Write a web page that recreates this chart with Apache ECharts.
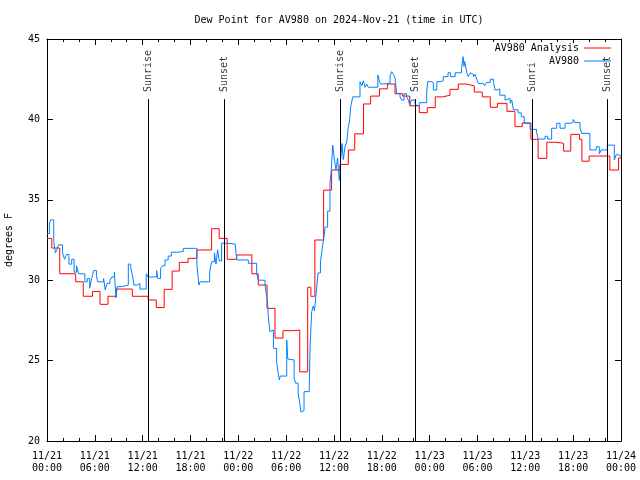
<!DOCTYPE html>
<html><head><meta charset="utf-8">
<script src="https://cdn.jsdelivr.net/npm/echarts@6/dist/echarts.min.js"></script>
<style>html,body{margin:0;padding:0;background:#fff}#c{width:640px;height:480px}</style>
</head><body><div id="c"></div>
<script>
// ---- data (time = hours since 2024-11-21 00:00 UTC) ----
const xTickLabels = ['11/21\n00:00','11/21\n06:00','11/21\n12:00','11/21\n18:00','11/22\n00:00','11/22\n06:00','11/22\n12:00','11/22\n18:00','11/23\n00:00','11/23\n06:00','11/23\n12:00','11/23\n18:00','11/24\n00:00'];
const yTickValues = [20,25,30,35,40,45];
const sunEventNames = ['Sunrise','Sunset','Sunrise','Sunset','Sunrise','Sunset'];
const sunEventHours = [12.67, 22.2, 36.75, 46.16, 60.84, 70.25];

const analysisHours = [0,0.6,1.6,3.6,4.55,5.7,6.65,7.65,8.7,10.7,12.7,13.7,14.7,15.7,16.6,17.7,18.8,20.65,21.6,22.6,23.8,25.7,26.5,27.6,28.6,29.6,30.8,31.7,32.7,33.1,33.6,34.7,35.7,36.75,37.8,38.6,39.7,40.6,41.7,42.7,43.65,44.6,45.5,46.7,47.7,48.7,49.6,50.55,51.6,52.65,53.6,54.6,55.6,56.5,57.7,58.7,59.6,60.7,61.6,62.7,63.7,64.8,65.7,66.8,67.1,68.0,70.6,71.7,72];
const analysisValues = [32.6,32.0,30.4,29.9,29.0,29.3,28.5,29.0,29.45,29.0,28.77,28.3,29.43,30.57,31.11,31.36,31.88,33.2,32.6,31.3,31.57,30.4,29.7,28.25,26.4,26.86,26.9,24.3,29.56,29.0,32.5,35.6,36.85,37.2,38.1,39.1,40.96,41.45,41.9,42.2,41.6,41.45,40.85,40.42,40.73,41.4,41.5,41.87,42.2,42.08,41.7,41.4,40.75,41.0,40.5,39.55,39.78,38.76,37.58,38.58,38.52,38.03,39.07,38.76,37.4,37.72,36.85,37.6,37.6];

const obsHours = [0,0.3,0.45,0.85,1.05,1.25,1.45,1.95,2.2,2.45,2.75,3.1,3.4,3.7,3.95,4.4,4.75,5.05,5.35,5.6,5.85,6.2,6.35,7.1,7.3,7.55,7.9,8.15,8.45,8.65,8.8,9.4,10.2,10.5,10.75,10.9,11.3,11.65,12.45,12.7,13.75,13.9,14.25,14.5,14.8,15.2,15.6,16.3,16.6,17.1,18.5,18.8,18.95,19.05,19.2,20.4,20.65,21.0,21.2,21.4,21.6,21.9,22.6,23.6,23.8,25.25,26.3,26.5,27.35,27.56,27.7,27.76,27.97,28.2,28.4,28.8,29.0,29.15,29.25,30.07,30.2,30.4,31.0,31.2,31.5,31.7,31.86,32.1,32.24,32.9,33.0,33.2,33.4,33.55,33.8,34.0,34.3,34.5,34.7,34.9,35.2,35.5,35.65,35.84,36.05,36.25,36.45,36.67,36.85,37.0,37.17,37.38,37.6,37.8,37.95,38.1,38.35,38.85,39.26,39.5,39.68,39.9,40.1,40.3,40.73,41.5,41.7,41.86,42.2,43.03,43.24,43.45,43.65,43.87,44.28,44.5,44.78,45.1,45.32,45.5,45.7,46.16,46.4,46.7,47.63,47.75,48.2,48.46,48.9,49.3,49.7,50.3,50.6,51.2,52.0,52.2,52.3,52.4,52.65,52.85,53.1,53.3,53.5,53.7,53.9,54.1,54.7,54.9,55.15,55.6,56.0,56.2,56.5,56.8,57.45,57.7,58.1,58.3,58.5,59.1,59.5,59.85,60.6,61.4,61.63,62.47,62.8,63.3,63.94,64.35,64.98,65.7,66.0,66.2,66.86,67.07,68.1,68.9,69.28,69.5,70.28,71.16,71.4,71.7,72];
const obsValues = [32.9,33.5,33.75,32.4,31.7,31.9,32.2,31.7,31.3,31.6,31.0,31.3,30.5,30.9,30.4,30.4,29.9,30.1,29.5,30.1,30.6,30.3,29.9,30.1,29.4,29.8,30.0,30.2,30.5,28.9,29.6,29.7,31.0,30.8,30.2,29.7,29.8,29.45,30.4,30.2,30.6,30.1,30.74,30.9,31.26,31.5,31.74,31.75,31.8,31.98,31.98,31.0,30.2,29.7,29.9,30.5,31.15,31.7,31.0,31.9,31.2,32.3,32.25,32.19,31.26,31.05,30.43,30.0,29.7,28.97,28.35,27.73,26.8,26.9,25.76,24.93,24.2,23.8,24.04,26.28,25.1,25.04,23.9,23.6,22.97,22.35,21.8,21.9,23.07,23.6,25.9,28.04,28.4,28.1,29.4,30.45,31.15,31.88,32.6,33.3,34.3,36.0,36.8,38.4,37.5,36.85,37.6,36.2,37.6,38.5,37.5,38.3,38.6,39.55,39.9,40.8,41.4,41.4,42.35,42.1,42.4,42.0,42.2,42.0,42.0,42.76,42.35,42.2,42.25,42.7,42.97,42.8,42.6,41.6,41.4,41.2,41.6,41.4,41.2,40.9,41.2,41.0,40.85,41.04,41.7,42.35,42.3,41.83,42.35,42.4,42.66,42.9,42.66,42.9,43.2,43.9,43.3,43.6,42.9,42.66,42.9,42.8,42.66,42.8,42.5,42.24,42.3,42.1,42.3,42.5,42.3,41.83,41.9,41.5,41.2,41.3,41.0,41.2,40.6,40.4,40.17,39.76,39.38,39.2,38.78,38.95,38.78,39.45,39.76,39.45,39.76,39.85,40.0,39.8,39.45,39.13,38.1,38.3,37.85,38.1,38.4,37.48,37.8,37.7,37.7];

// ---- chart ----
const FONT = 'DejaVu Sans Mono';
const FS = 10;
const zip = (a, b) => a.map((v, i) => [v, b[i]]);
const chart = echarts.init(document.getElementById('c'), null, {renderer: 'canvas'});

const xBase = {
  type: 'value', min: 0, max: 72, interval: 6,
  axisLine: {show: true, onZero: false, lineStyle: {color: '#000', width: 1}},
  axisTick: {show: true, inside: true, length: 6, lineStyle: {color: '#000'}},
  minorTick: {show: true, splitNumber: 3, length: 3, lineStyle: {color: '#000'}},
  splitLine: {show: false}
};
const yBase = {
  type: 'value', min: 20, max: 45, interval: 5,
  axisLine: {show: true, onZero: false, lineStyle: {color: '#000', width: 1}},
  axisTick: {show: true, inside: true, length: 6, lineStyle: {color: '#000'}},
  splitLine: {show: false}
};
const legendBase = {
  orient: 'vertical', align: 'right', right: 29,
  icon: 'rect', itemWidth: 27, itemHeight: 1, itemGap: 0, padding: 0,
  textStyle: {fontFamily: FONT, fontSize: FS, color: '#000'}
};

chart.setOption({
  animation: false,
  backgroundColor: '#fff',
  title: {
    text: 'Dew Point for AV980 on 2024-Nov-21 (time in UTC)',
    left: 334, top: 10, textAlign: 'center',
    textStyle: {fontFamily: FONT, fontSize: FS, fontWeight: 'normal', color: '#000'}
  },
  grid: {left: 47, right: 19, top: 39, bottom: 39, containLabel: false, outerBoundsMode: 'none'},
  xAxis: [
    Object.assign({}, xBase, {
      position: 'bottom',
      axisLabel: {
        show: true, margin: 9, color: '#000', fontFamily: FONT, fontSize: FS, lineHeight: 12,
        formatter: v => xTickLabels[Math.round(v / 6)]
      }
    }),
    Object.assign({}, xBase, {position: 'top', axisLabel: {show: false}})
  ],
  yAxis: [
    Object.assign({}, yBase, {
      position: 'left',
      name: 'degrees F', nameLocation: 'middle', nameGap: 33, nameRotate: 90,
      nameTextStyle: {fontFamily: FONT, fontSize: FS, color: '#000'},
      axisLabel: {show: true, margin: 7, color: '#000', fontFamily: FONT, fontSize: FS,
        formatter: v => yTickValues.includes(v) ? String(v) : ''}
    }),
    Object.assign({}, yBase, {position: 'right', axisLabel: {show: false}})
  ],
  legend: [
    Object.assign({}, legendBase, {data: ['AV980 Analysis'], top: 43}),
    Object.assign({}, legendBase, {data: ['AV980'], top: 56})
  ],
  graphic: [{type: 'rect', shape: {x: 488, y: 43, width: 92, height: 20}, style: {fill: '#fff'}, z: 3, silent: true}],
  series: [
    {
      name: 'sun', type: 'scatter', xAxisIndex: 0, yAxisIndex: 0, z: 1,
      symbolSize: 0, silent: true,
      data: sunEventHours.map((h, i) => ({name: sunEventNames[i], value: [h, 41.7]})),
      label: {show: true, formatter: '{b}', position: 'inside', rotate: 90, align: 'left', verticalAlign: 'middle',
        fontFamily: FONT, fontSize: FS, color: '#000'},
      markLine: {
        silent: true, symbol: ['none', 'none'], animation: false,
        lineStyle: {color: '#000', width: 1, type: 'solid'},
        label: {show: false},
        data: sunEventHours.map(h => [{coord: [h, 20]}, {coord: [h, 41.26]}])
      }
    },
    {
      name: 'AV980 Analysis', type: 'line', step: 'end', xAxisIndex: 0, yAxisIndex: 0, z: 2,
      symbol: 'none', showSymbol: false,
      lineStyle: {color: '#ff0000', width: 1}, itemStyle: {color: '#ff0000'},
      data: zip(analysisHours, analysisValues)
    },
    {
      name: 'AV980', type: 'line', step: 'end', xAxisIndex: 0, yAxisIndex: 0, z: 2,
      symbol: 'none', showSymbol: false,
      lineStyle: {color: '#0080ff', width: 1}, itemStyle: {color: '#0080ff'},
      data: zip(obsHours, obsValues)
    }
  ]
});
</script>
</body></html>
